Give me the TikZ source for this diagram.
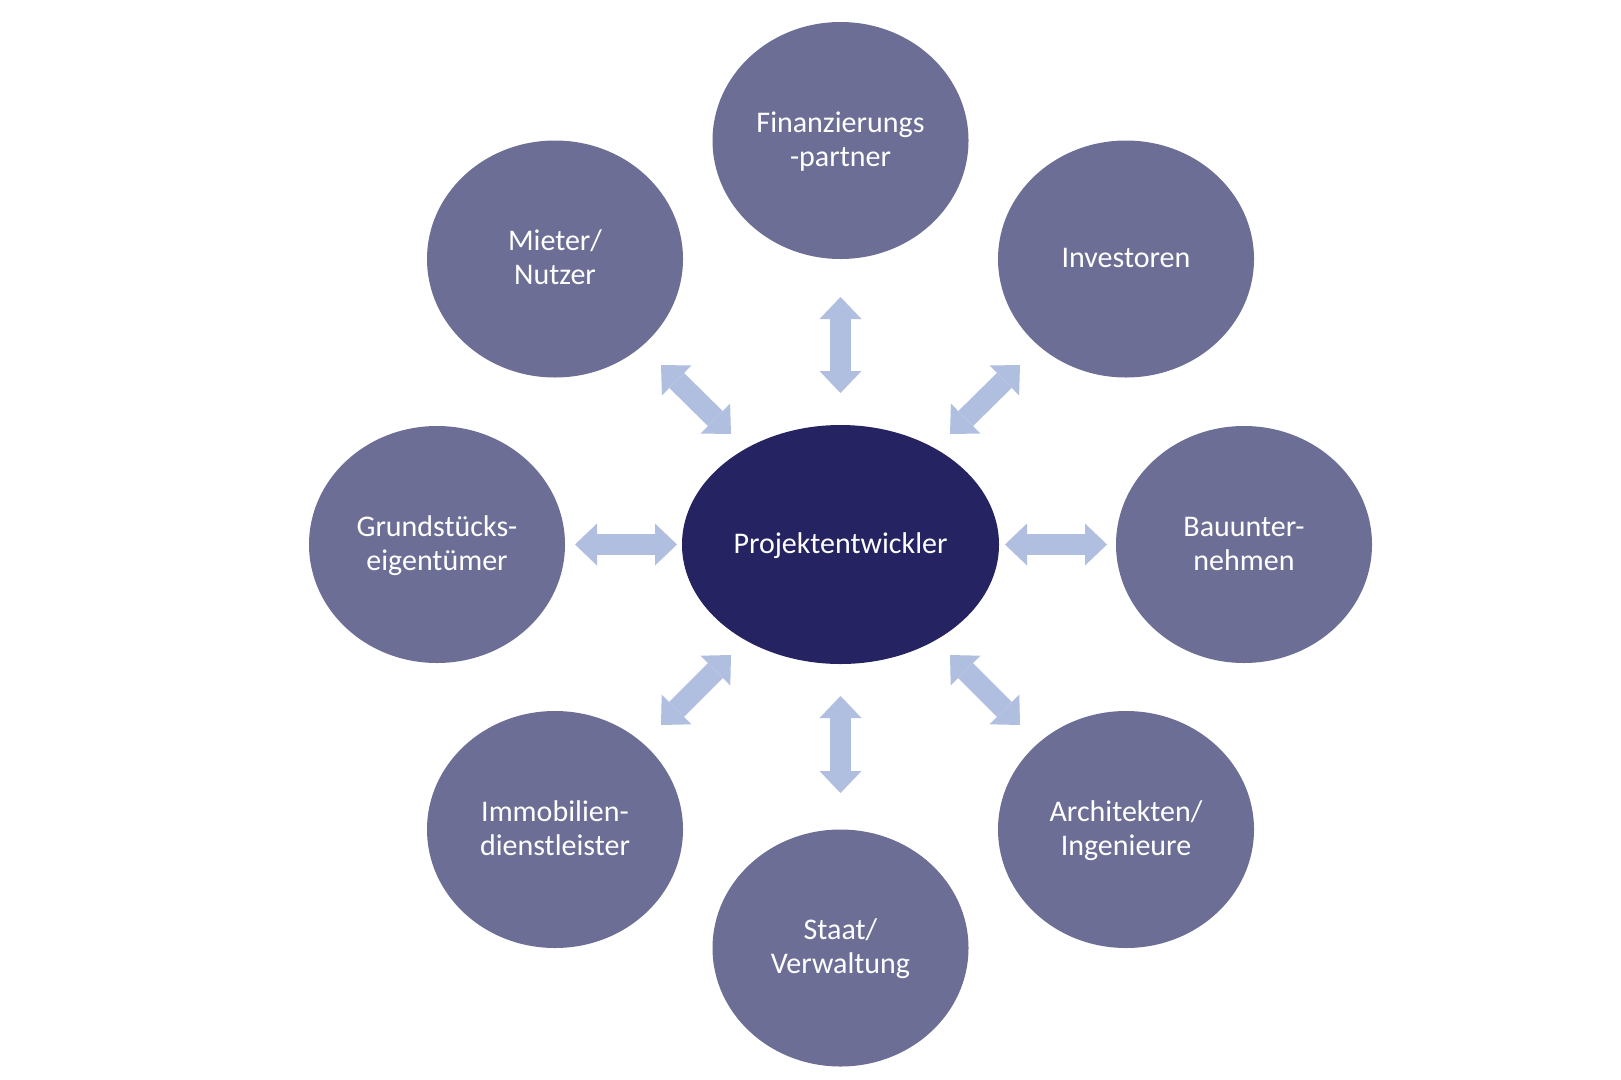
\documentclass[tikz,border=0pt]{standalone}
\usepackage{fontspec}
\setmainfont{Carlito}
\usetikzlibrary{shapes.geometric,arrows.meta}
\definecolor{outerfill}{RGB}{109,110,150}
\definecolor{centerfill}{RGB}{37,35,98}
\definecolor{arrowfill}{RGB}{176,190,224}
\newcommand\mytopstrut{\rule{0pt}{26pt}}
\newcommand\mybotstrut{\rule[-9pt]{0pt}{9pt}}
\begin{document}
\begin{tikzpicture}[x=1pt,y=-1pt,
  party/.style={ellipse,fill=outerfill,draw=none,minimum width=256pt,minimum height=237pt,inner sep=0pt,
    text=white,align=center,font=\fontsize{30}{34}\selectfont},
  hub/.style={party,fill=centerfill,minimum width=317pt,minimum height=239pt},
  blockarrow/.style={draw=arrowfill,line width=21pt,line cap=butt,
    {Triangle[width=42pt,length=22pt,line width=0pt,fill=arrowfill]}-{Triangle[width=42pt,length=22pt,line width=0pt,fill=arrowfill]}}
]
\useasboundingbox (0,0) rectangle (1621,1079);
\fill[white] (0,0) rectangle (1621,1079);

\node[hub]   (pe)  at (840.5,544.5) {\mytopstrut Projektentwickler\mybotstrut};
\node[party] (fin) at (840.5,140.5) {\mytopstrut Finanzierungs\\-partner\mybotstrut};
\node[party] (mie) at (555,259)     {\mytopstrut Mieter/\\Nutzer\mybotstrut};
\node[party] (inv) at (1126,259)    {\mytopstrut Investoren\mybotstrut};
\node[party] (gru) at (437,544.5)   {\mytopstrut Grundstücks-\\eigentümer\mybotstrut};
\node[party] (bau) at (1244,544.5)  {\mytopstrut Bauunter-\\nehmen\mybotstrut};
\node[party] (imm) at (555,829.5)   {\mytopstrut Immobilien-\\dienstleister\mybotstrut};
\node[party] (arc) at (1126,829.5)  {\mytopstrut Architekten/\\Ingenieure\mybotstrut};
\node[party] (sta) at (840.5,948)   {\mytopstrut Staat/\\Verwaltung\mybotstrut};

% arrow end points
\coordinate (finA) at (840.5,297);  \coordinate (finB) at (840.5,393);
\coordinate (staA) at (840.5,696);  \coordinate (staB) at (840.5,793);
\coordinate (gruA) at (575,544.5);  \coordinate (gruB) at (677,544.5);
\coordinate (bauA) at (1005,544.5); \coordinate (bauB) at (1107,544.5);
\coordinate (mieA) at (661,365);    \coordinate (mieB) at (731,434);
\coordinate (invA) at (1020,365);   \coordinate (invB) at (950,434);
\coordinate (immA) at (661,725);    \coordinate (immB) at (731,655);
\coordinate (arcA) at (1020,725);   \coordinate (arcB) at (950,655);

\draw[blockarrow] (finA) -- (finB);
\draw[blockarrow] (staA) -- (staB);
\draw[blockarrow] (gruA) -- (gruB);
\draw[blockarrow] (bauA) -- (bauB);
\draw[blockarrow] (mieA) -- (mieB);
\draw[blockarrow] (invA) -- (invB);
\draw[blockarrow] (immA) -- (immB);
\draw[blockarrow] (arcA) -- (arcB);
\end{tikzpicture}
\end{document}
